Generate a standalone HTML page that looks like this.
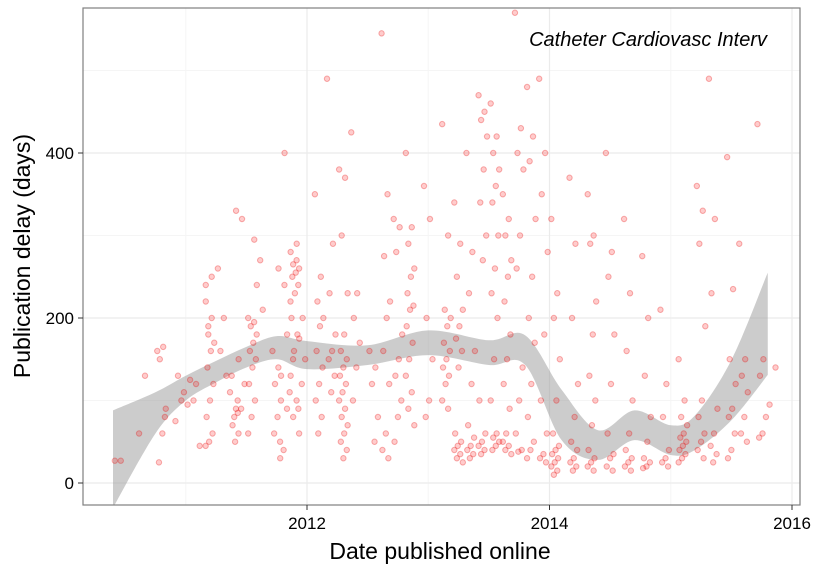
<!DOCTYPE html>
<html><head><meta charset="utf-8">
<style>
html,body{margin:0;padding:0;background:#fff;}
svg text{font-family:"Liberation Sans",sans-serif;}
</style></head>
<body>
<svg id="chart" width="825" height="570" xmlns="http://www.w3.org/2000/svg">
<defs><clipPath id="clip"><rect x="83" y="8" width="717" height="497"/></clipPath></defs>
<rect x="83" y="8" width="717" height="497" fill="#fff"/>
<g id="grid"></g>
<g id="band" clip-path="url(#clip)"></g>
<g id="points" clip-path="url(#clip)"></g>
<rect x="83" y="8" width="717" height="497" fill="none" stroke="#7f7f7f" stroke-width="1.2"/>
<g id="axes"></g>
<text x="767" y="46" text-anchor="end" font-size="20" font-style="italic" fill="#000">Catheter Cardiovasc Interv</text>
<text x="440" y="559" text-anchor="middle" font-size="23" fill="#000">Date published online</text>
<text transform="translate(30,256) rotate(-90)" text-anchor="middle" font-size="23" fill="#000">Publication delay (days)</text>
</svg>
<script>
const xTicks=[2012,2014,2016];
const xMinor=[2011,2013,2015];
const yTicks=[0,200,400];
const yMinor=[100,300,500];
const colDates=[2010.45,2010.65,2010.8,2010.95,2011.05,2011.15,2011.2,2011.3,2011.4,2011.45,2011.55,2011.6,2011.75,2011.8,2011.85,2011.9,2011.95,2012.1,2012.2,2012.3,2012.4,2012.55,2012.65,2012.75,2012.85,2013.0,2013.15,2013.25,2013.35,2013.45,2013.55,2013.65,2013.75,2013.85,2013.95,2014.05,2014.2,2014.35,2014.5,2014.65,2014.8,2014.95,2015.1,2015.25,2015.35,2015.5,2015.6,2015.75,2015.85];
const colDelays=[
[27,27],[60,130],[160,165,150,90,60,25,80],[75,100,130,110],[95,100,125,120],[45,45],
[240,200,190,170,160,140,120,100,80,60,50,220,250,180],[260,200,160,130],[110,90,70,60,50,130,100,80],
[330,320,150,120,90,85],[200,195,190,180,170,160,150,140,120,100,80,60],[295,270,240,210],
[160,140,120,100,80,60,50],[260,240,130,90,40,30],[400,220,180,150,110],
[280,270,265,260,255,250,240,230,200,180,160,130,100,80,60],[290,200,175,150,120,90],
[350,250,220,200,190,160,140,120,100,80,60],[490,290,230,180,160,150,130,110],
[380,370,300,230,180,160,150,140,130,120,110,100,90,80,70,60,50,40,30],[425,230,200,170,140,100],
[160,140,120,80,50],[545,350,275,220,200,160,120,60,40,30],[320,310,280,180,150,130,100,80,50],
[400,310,290,260,250,230,215,210,190,170,150,130,110,90,70],[360,320,200,150,100,80],
[435,300,210,200,190,170,160,150,140,130,120,100,90],[340,290,250,210,190,175,160,140,60,50,45,40,35,30,25],
[400,280,230,160,120,70,55,45,40,35,30],[470,450,440,420,380,340,300,270,100,60,50,45,40,35],
[460,420,400,380,360,340,300,260,230,200,150,100,60,55,50,45,40],[350,320,300,270,250,220,180,150,120,90,60,50,45,40,35],
[570,430,400,380,300,260,140,100,60,40,38],[480,420,390,320,250,200,170,120,80,50,40,30],
[490,400,350,280,180,100,60,35,30,25],[320,230,200,150,100,60,45,40,35,30,25,20,15,10],
[370,290,200,120,80,50,40,30,25,20,15],[350,300,290,220,180,130,100,70,40,30,25,20,15],
[400,280,250,180,120,60,35,30,20,15],[320,230,160,100,60,40,30,25,20,15],[275,200,130,80,50,30,25,20,18],
[210,120,80,40,30,25,20],[150,100,80,70,60,55,50,45,40,35,30,25],[360,330,290,190,100,80,60,50,40,30],
[490,320,230,90,60,45,35,25],[395,235,150,120,90,80,60,40,30],[290,150,130,110,80,60,50],[435,150,130,80,60,55],[95,140]];
const bandX=[2010.4,2010.75,2011.0,2011.25,2011.5,2011.75,2012.0,2012.5,2013.0,2013.5,2013.8,2014.1,2014.4,2014.7,2015.0,2015.2,2015.5,2015.8];
const bandUpper=[88,110,130,148,165,178,172,167,185,173,179,113,64,88,70,82,149,255];
const bandLower=[-30,60,100,122,140,150,138,143,155,143,143,52,28,52,34,40,76,131];

const NS="http://www.w3.org/2000/svg";
const sx=d=>307+(d-2012)*121.25;
const sy=v=>483-v*0.825;
function mk(tag,attrs,parent){const e=document.createElementNS(NS,tag);for(const k in attrs)e.setAttribute(k,attrs[k]);parent.appendChild(e);return e;}
const grid=document.getElementById('grid'),axes=document.getElementById('axes');
xMinor.forEach(t=>{const l=mk('line',{x1:sx(t),x2:sx(t),y1:8,y2:505,stroke:'#f5f5f5','stroke-width':1},grid);

});
yMinor.forEach(t=>{const l=mk('line',{x1:83,x2:800,y1:sy(t),y2:sy(t),stroke:'#f5f5f5','stroke-width':1},grid);

});
xTicks.forEach(t=>{const l=mk('line',{x1:sx(t),x2:sx(t),y1:8,y2:505,stroke:'#ebebeb','stroke-width':1.2},grid);


const tk=mk('line',{x1:sx(t),x2:sx(t),y1:505,y2:510,stroke:'#333','stroke-width':1},axes);


const tx=mk('text',{x:sx(t),y:529,'text-anchor':'middle','font-size':17,fill:'#000'},axes);tx.textContent=t;

});
yTicks.forEach(t=>{const l=mk('line',{x1:83,x2:800,y1:sy(t),y2:sy(t),stroke:'#ebebeb','stroke-width':1.2},grid);


const tk=mk('line',{x1:78,x2:83,y1:sy(t),y2:sy(t),stroke:'#333','stroke-width':1},axes);


const tx=mk('text',{x:74,y:sy(t)+6,'text-anchor':'end','font-size':17,fill:'#000'},axes);tx.textContent=t;

});
// smooth band via Catmull-Rom
function curve(pts,start){
  let s=start?('M'+pts[0][0]+','+pts[0][1]):('L'+pts[0][0]+','+pts[0][1]);
  for(let i=0;i<pts.length-1;i++){
    const p0=pts[Math.max(0,i-1)],p1=pts[i],p2=pts[i+1],p3=pts[Math.min(pts.length-1,i+2)];
    const c1=[p1[0]+(p2[0]-p0[0])/6,p1[1]+(p2[1]-p0[1])/6];
    const c2=[p2[0]-(p3[0]-p1[0])/6,p2[1]-(p3[1]-p1[1])/6];
    s+='C'+c1[0]+','+c1[1]+' '+c2[0]+','+c2[1]+' '+p2[0]+','+p2[1];
  }
  return s;
}
const up=bandX.map((x,i)=>[sx(x),sy(bandUpper[i])]);
const lo=bandX.map((x,i)=>[sx(x),sy(bandLower[i])]).reverse();
const band=mk('path',{d:curve(up,true)+curve(lo,false)+'Z',fill:'#999','fill-opacity':0.5},document.getElementById('band'));


// points
const pg=document.getElementById('points');
colDates.forEach((dt,c)=>{colDelays[c].forEach((v,i)=>{
const date=dt+(((i*7)%11)-5)*0.007;
const p=mk('circle',{cx:sx(date),cy:sy(v),r:2.7,fill:'rgba(255,0,0,0.2)',stroke:'rgba(230,0,0,0.3)','stroke-width':1},pg);

});});
</script>
</body></html>
